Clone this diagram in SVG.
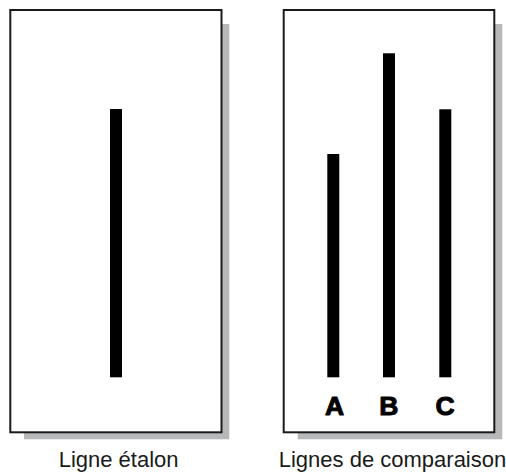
<svg xmlns="http://www.w3.org/2000/svg" width="506" height="472" viewBox="0 0 506 472">
<style>
.shadow{fill:#b7b8b9}
.card{fill:#fff;stroke:#1a1a1a;stroke-width:2}
.bar{fill:#000}
.letter{font-family:"Liberation Sans",Arial,sans-serif;font-weight:bold;font-size:26.5px;fill:#000;stroke:#000;stroke-width:1;stroke-linejoin:round;text-anchor:middle}
.label{font-family:"Liberation Sans",Arial,sans-serif;font-size:22px;fill:#1a1a1a;text-anchor:middle}
</style>
<rect width="506" height="472" fill="#fff"/>
<g id="standard-card">
<rect class="shadow" x="24" y="24" width="205.3" height="415.3"/>
<rect class="card" x="10.3" y="10" width="211.2" height="422.3"/>
<rect class="bar" x="110" y="109" width="12" height="268.3"/>
<text class="label" x="118.6" y="466.5">Ligne étalon</text>
</g>
<g id="comparison-card">
<rect class="shadow" x="297.7" y="24" width="204.6" height="415.3"/>
<rect class="card" x="283.7" y="10" width="210.6" height="422.3"/>
<g id="line-A">
<rect class="bar" x="327.3" y="154" width="12" height="223.3"/>
<text class="letter" x="334.5" y="415.3">A</text>
</g>
<g id="line-B">
<rect class="bar" x="383" y="53.3" width="12" height="324"/>
<text class="letter" x="388.8" y="415.3">B</text>
</g>
<g id="line-C">
<rect class="bar" x="439.3" y="109.3" width="12" height="268"/>
<text class="letter" x="445" y="415.3">C</text>
</g>
<text class="label" x="392.5" y="466.5">Lignes de comparaison</text>
</g>
</svg>
